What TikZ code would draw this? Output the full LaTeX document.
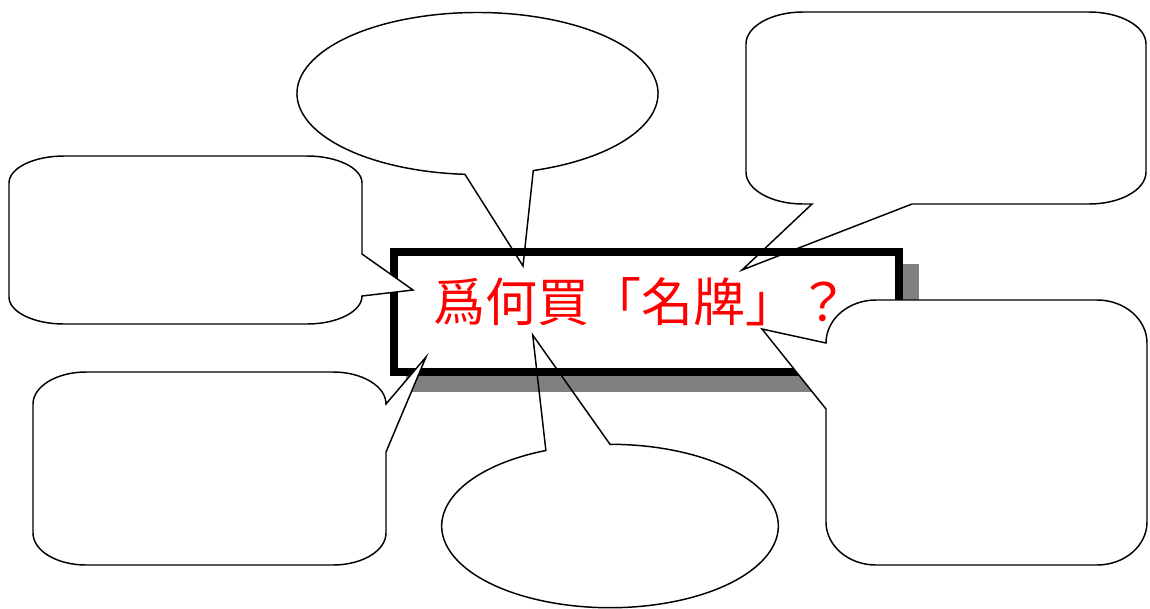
\documentclass[tikz,border=0pt]{standalone}
\usepackage{fontspec}
\newfontfamily\cjk{Noto Sans CJK TC}
\definecolor{shadowgray}{RGB}{128,128,128}
\definecolor{titlered}{RGB}{255,0,0}
\begin{document}
\begin{tikzpicture}[x=0.75pt,y=0.75pt,
  callout/.style={draw=black,line width=1.1pt,line join=miter},
  calloutfill/.style={callout,fill=white},
  titlebox/.style={draw=black,fill=white,line width=6pt,line join=miter,
    minimum width=378.75pt,minimum height=90pt,inner sep=0pt},
  titletext/.style={text=titlered,font=\cjk\fontsize{39}{39}\selectfont,inner sep=0pt}]
\useasboundingbox (0,0) rectangle (1150,-608);
% shadow of the title box
\fill[shadowgray] (406,-264) rectangle (919,-392);
% title box
\node[titlebox] (box) at (646.5,-312) {};
% callouts lying under (outline only)
% top ellipse
\draw[callout] ([shift={(477.5,-93.5)}]-72:180.5 and 81) arc[start angle=-72,end angle=266,x radius=180.5,y radius=81]
  -- (523,-266) coordinate (tipA) -- cycle;
% top right rounded callout
\draw[callout] (803,-12) -- (1089,-12) arc[start angle=90,end angle=0,x radius=57,y radius=32]
  -- (1146,-172) arc[start angle=0,end angle=-90,x radius=57,y radius=32]
  -- (912,-204) -- (742,-270) coordinate (tipB) -- (812,-204) -- (803,-204)
  arc[start angle=-90,end angle=-180,x radius=57,y radius=32]
  -- (746,-44) arc[start angle=180,end angle=90,x radius=57,y radius=32] -- cycle;
% bottom ellipse
\draw[callout] (610,-444.3) -- (532.7,-335) coordinate (tipC) -- ([shift={(610,-526)}]112.4:168.3 and 81.7)
  arc[start angle=112.4,end angle=450,x radius=168.3,y radius=81.7] -- cycle;
% callouts lying over (filled)
% upper left
\draw[calloutfill] (64,-156) -- (307,-156) arc[start angle=90,end angle=0,x radius=55,y radius=27]
  -- (362,-254) -- (413,-290) coordinate (tipD) -- (362,-296)
  arc[start angle=0,end angle=-90,x radius=55,y radius=28]
  -- (64,-324) arc[start angle=-90,end angle=-180,x radius=55,y radius=27]
  -- (9,-183) arc[start angle=180,end angle=90,x radius=55,y radius=27] -- cycle;
% lower left
\draw[calloutfill] (86,-372) -- (333,-372) arc[start angle=90,end angle=0,x radius=53,y radius=32]
  -- (426,-357) coordinate (tipE) -- (386,-452) -- (386,-533)
  arc[start angle=0,end angle=-90,x radius=53,y radius=32]
  -- (86,-565) arc[start angle=-90,end angle=-180,x radius=53,y radius=32]
  -- (33,-404) arc[start angle=180,end angle=90,x radius=53,y radius=32] -- cycle;
% lower right
\draw[calloutfill] (876,-300) -- (1097,-300) arc[start angle=90,end angle=0,x radius=50,y radius=43]
  -- (1147,-522) arc[start angle=0,end angle=-90,x radius=50,y radius=43]
  -- (876,-565) arc[start angle=-90,end angle=-180,x radius=50,y radius=43]
  -- (826,-409) -- (762,-329) coordinate (tipF) -- (826,-343)
  arc[start angle=180,end angle=90,x radius=50,y radius=43] -- cycle;
% title text
\node[titletext] (title) at (641,-302) {爲何買「名牌」？};
\end{tikzpicture}
\end{document}
